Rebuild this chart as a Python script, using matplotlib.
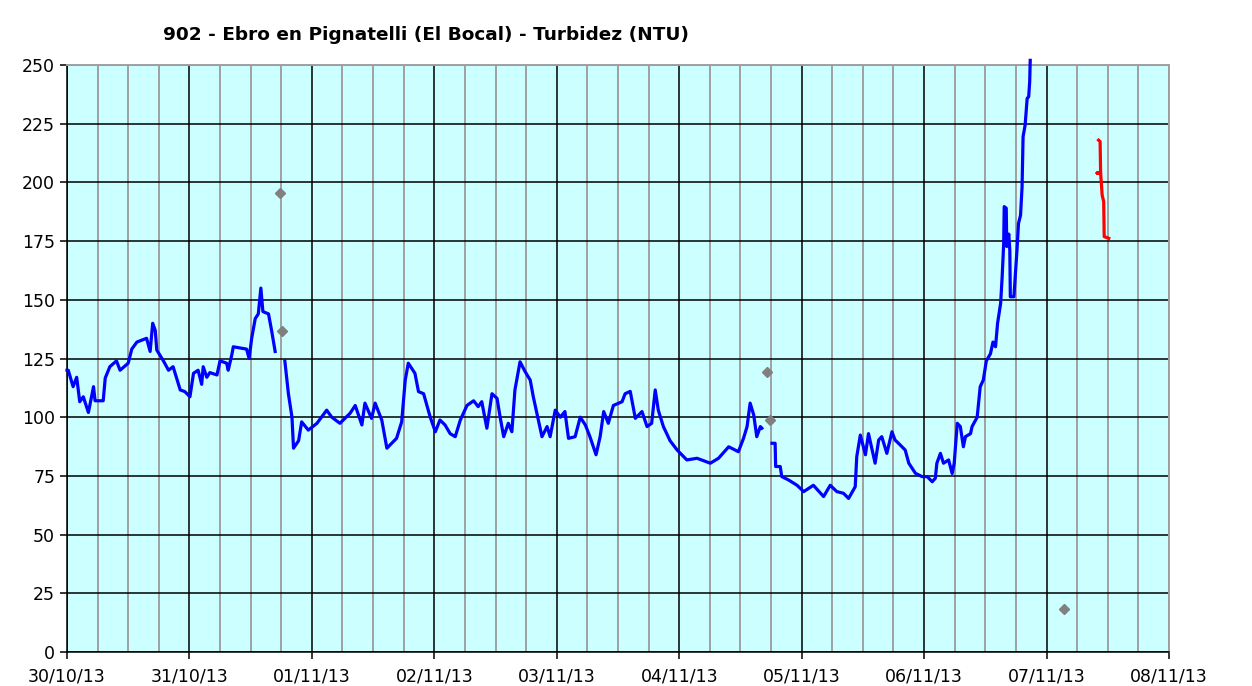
import numpy as np
import pandas as pd
import matplotlib
matplotlib.use("Agg")
import matplotlib.pyplot as plt
import matplotlib.dates as mdates

# -------------------------------------------------
# DATA (hours since 30/10/13 00:00, NTU)
# -------------------------------------------------
t0 = pd.Timestamp("2013-10-30 00:00")

blue_h = [0.0, 0.25, 1.2, 1.9, 2.5, 3.2, 4.2, 5.2, 5.5, 7.1, 7.5, 8.4, 9.7, 10.4,
          12.0, 12.7, 13.7, 15.6, 16.3, 16.8, 17.3, 17.6, 18.9, 19.9, 20.8, 22.2,
          23.1, 24.1, 24.8, 25.7, 26.4, 26.7, 27.4, 28.0, 29.4, 30.0, 31.3, 31.6,
          32.3, 32.6, 35.2, 35.7, 36.2, 36.9, 37.5, 38.0, 38.4, 39.5, 40.1, 40.8,
          41.5,
          42.7, 43.4, 44.1, 44.4, 45.4, 46.0, 47.3, 49.0, 50.9, 51.9, 53.5, 55.5,
          56.5, 57.8, 58.4, 59.7, 60.4, 61.7, 62.7, 64.6, 65.6, 66.3, 66.9, 68.2,
          68.9, 69.9, 71.2, 72.2, 73.1, 74.1, 75.1, 76.1, 77.1, 78.4, 79.7, 80.6,
          81.3, 82.3, 83.3, 84.3, 84.9, 85.6, 86.5, 87.2, 87.8, 88.8, 89.8, 90.8,
          91.4, 92.1, 93.1, 94.1, 94.7, 95.7, 96.7, 97.6, 98.3, 99.6, 100.6, 101.6,
          102.5, 103.7, 104.5, 105.2, 106.1, 107.1, 108.8, 109.4, 110.4, 111.4,
          112.7, 113.7, 114.6, 115.3, 115.9, 116.9, 118.2, 119.6, 121.5, 123.5,
          126.1, 127.7, 129.7, 131.6, 132.6, 133.3, 133.9, 134.6, 135.2, 135.9,
          136.2,
          137.0,
          138.2, 138.8, 138.9, 139.8, 140.1, 141.4, 143.1, 144.4, 146.3, 148.3,
          149.6, 150.9, 152.2, 153.2, 154.5, 154.8, 155.5, 156.5, 157.1, 158.4,
          159.1, 159.7, 160.7, 161.7, 162.3, 163.3, 164.3, 165.0, 166.3, 167.6,
          168.6, 169.6, 170.2, 170.5, 171.2, 171.8, 172.8, 173.5, 173.9, 174.5,
          175.1, 175.7, 176.1, 177.1, 177.4, 178.4, 179.0, 179.6, 180.2, 181.0,
          181.5, 182.0, 182.4, 183.0, 183.3, 183.6, 183.7, 184.1, 184.2, 184.6,
          184.8, 184.9, 185.6, 185.9, 186.2, 186.5, 186.9, 187.2, 187.4, 187.8,
          188.2, 188.5, 188.7, 188.8]
blue_v = [120, 120, 113, 117, 106.6, 108.7, 102, 113, 107, 107, 116.7, 121.5, 124, 120,
          123, 129, 132, 133.6, 128, 140, 137, 128.6, 124, 120, 121.5, 111.6,
          110.9, 108.7, 118.7, 120, 114, 121.5, 117, 119, 118, 124, 123, 120,
          126.5, 130, 129, 125, 133.6, 142, 144, 155, 145, 144, 137, 128,
          np.nan,
          124, 110, 100, 86.8, 90, 98, 94.5, 97.4, 103, 100, 97.4, 101.7,
          105, 96.7, 106, 99.5, 106, 98.8, 86.8, 91, 98, 115.8, 123, 118.7,
          110.9, 110, 100, 93.8, 98.8, 96.7, 93, 91.7, 98.8, 105, 107, 104.5,
          106.6, 95.3, 110, 108, 100, 91.7, 97.4, 93.8, 111.6, 123.6, 119.4, 115.8,
          108.7, 101.7, 91.7, 96, 91.7, 103, 100, 102.4, 91, 91.7, 100, 96.7,
          91.7, 84, 91.7, 102.4, 97.4, 105, 106.6, 110, 111, 99.5,
          102.4, 96, 97.4, 111.6, 103, 96, 90, 86, 81.8, 82.5,
          80.4, 82.5, 87.4, 85.3, 91, 96, 106, 101, 91.7, 96,
          95.3,
          np.nan,
          88.9, 88.9, 79, 79, 74.7, 73.3, 71, 68.3, 71, 66.2,
          71, 68.3, 67.6, 65.4, 70.4, 83.2, 92.4, 84, 93, 80.4,
          90.3, 91.7, 84.6, 93.8, 90.3, 88.2, 86, 80.4, 76.1, 74.7,
          74.7, 72.5, 74, 80.4, 84.6, 80.4, 81.8, 76, 80.4, 97.4,
          96, 87.4, 91.7, 93, 96, 100, 113, 115.8, 124, 127,
          132, 130, 140, 148.5, 159.8, 174, 189.7, 189, 172.7, 178,
          171, 151.3, 151.3, 161, 171, 182.5, 186, 198, 219.5, 224.4,
          235.8, 236.5, 243, 252]

red_h = [202.2, 202.5, 202.6, 201.9, 202.6, 202.9, 203.2, 203.3, 204.2]
red_v = [218, 217.4, 204, 204, 204, 194.6, 191.8, 176.9, 176.2]

dot_h = [41.8, 42.1, 137.2, 137.8, 195.4]
dot_v = [195.6, 136.9, 119.4, 98.8, 18.2]

y_ticks = list(range(0, 251, 25))

blue_t = t0 + pd.to_timedelta(blue_h, unit="h")
red_t = t0 + pd.to_timedelta(red_h, unit="h")
dot_t = t0 + pd.to_timedelta(dot_h, unit="h")

# -------------------------------------------------
# PLOT
# -------------------------------------------------
fig = plt.figure(figsize=(12.52, 6.86), dpi=100)
ax = fig.add_axes([0.0535, 0.0496, 0.8802, 0.8556])
ax.set_facecolor("#CCFFFF")

ax.plot(blue_t, blue_v, color="#0000FF", lw=2.3, zorder=3, clip_on=False)
ax.plot(red_t, red_v, color="#FF0000", lw=2.3, zorder=3)
ax.plot(dot_t, dot_v, ls="none", marker="D", ms=5, color="#808080",
        markeredgecolor="#808080", zorder=4)

ax.set_xlim(t0, t0 + pd.Timedelta(days=9))
ax.set_ylim(0, 250)
ax.set_yticks(y_ticks)

ax.xaxis.set_major_locator(mdates.DayLocator())
ax.xaxis.set_major_formatter(mdates.DateFormatter("%d/%m/%y"))
ax.xaxis.set_minor_locator(mdates.HourLocator(byhour=[6, 12, 18]))

ax.grid(True, which="major", axis="both", color="black", lw=1.1, zorder=1)
ax.grid(True, which="minor", axis="x", color="#A0A0A0", lw=1.4, zorder=1)
ax.set_axisbelow(True)

ax.tick_params(axis="both", which="major", direction="out", length=5,
               width=1.1, labelsize=12.5, colors="black")
ax.tick_params(axis="x", which="minor", length=0)
ax.tick_params(axis="x", pad=6)

for side in ["left", "bottom"]:
    ax.spines[side].set_color("black")
    ax.spines[side].set_linewidth(1.1)
for side in ["top", "right"]:
    ax.spines[side].set_color("#A0A0A0")
    ax.spines[side].set_linewidth(1.4)

fig.text(163 / 1252, 1 - 35 / 686,
         "902 - Ebro en Pignatelli (El Bocal) - Turbidez (NTU)",
         ha="left", va="center", fontsize=13.3, fontweight="bold")

fig.savefig("out.png", dpi=100, facecolor="white")
